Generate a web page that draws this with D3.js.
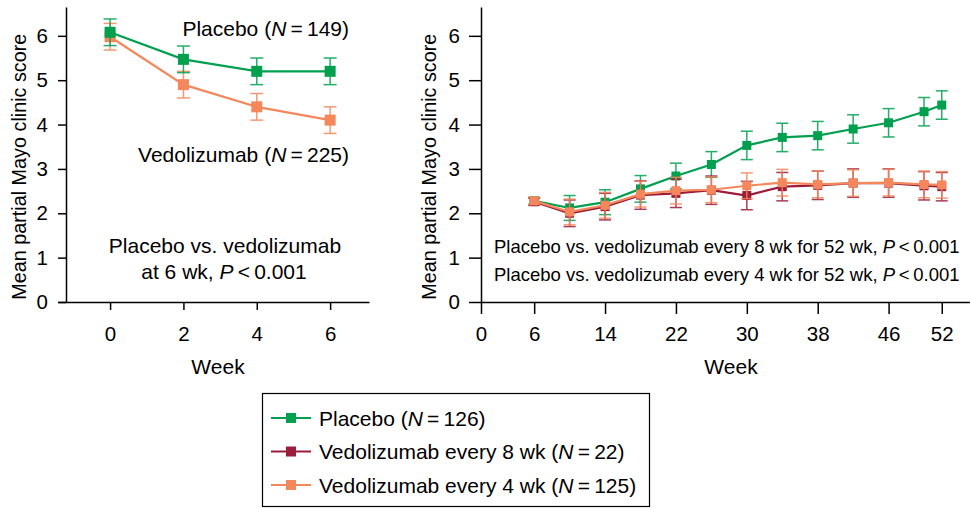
<!DOCTYPE html>
<html>
<head>
<meta charset="utf-8">
<script src="https://cdn.jsdelivr.net/npm/d3@7"></script>
<style>
  body { margin: 0; background: #fff; }
  svg { font-family: "Liberation Sans", Arial, sans-serif; }
  .axis path, .axis line { stroke: #000; stroke-width: 1.5; }
</style>
</head>
<body>
<svg id="chart" width="970" height="509"></svg>
<script>
// Induction phase (left panel)
const inductionWeeks = [0, 2, 4, 6];
const inductionPlacebo = [6.08, 5.47, 5.20, 5.20];
const inductionPlaceboErr = [0.30, 0.30, 0.30, 0.30];
const inductionVedo = [5.98, 4.90, 4.40, 4.10];
const inductionVedoErr = [0.30, 0.30, 0.30, 0.30];

// Maintenance phase (right panel)
const maintWeeks = [6, 10, 14, 18, 22, 26, 30, 34, 38, 42, 46, 50, 52];
const maintPlacebo = [2.28, 2.12, 2.25, 2.55, 2.84, 3.10, 3.53, 3.71, 3.75, 3.90, 4.04, 4.29, 4.44];
const maintPlaceboErr = [0.08, 0.28, 0.28, 0.30, 0.29, 0.29, 0.32, 0.32, 0.32, 0.32, 0.32, 0.32, 0.32];
const maintQ8 = [2.26, 2.00, 2.15, 2.41, 2.45, 2.52, 2.40, 2.60, 2.63, 2.68, 2.68, 2.62, 2.60];
const maintQ8Err = [0.08, 0.30, 0.30, 0.32, 0.32, 0.32, 0.32, 0.32, 0.32, 0.32, 0.32, 0.32, 0.32];
const maintQ4 = [2.28, 2.03, 2.18, 2.43, 2.51, 2.53, 2.62, 2.69, 2.65, 2.68, 2.69, 2.65, 2.64];
const maintQ4Err = [0.08, 0.29, 0.29, 0.29, 0.30, 0.29, 0.29, 0.30, 0.30, 0.30, 0.30, 0.30, 0.30];

const yTicks = [0, 1, 2, 3, 4, 5, 6];
const leftXTicks = [0, 2, 4, 6];
const rightXTicks = [0, 6, 14, 22, 30, 38, 46, 52];

const T = "\u2009"; // thin space used around = and <
const legendLabels = [
  ["Placebo (", "N", `${T}=${T}126)`],
  ["Vedolizumab every 8 wk (", "N", `${T}=${T}22)`],
  ["Vedolizumab every 4 wk (", "N", `${T}=${T}125)`]
];

const colors = { placebo: "#00a04f", q8: "#9b1c3b", q4: "#f4885c" };
const FS = 21;

const svg = d3.select("#chart");

// Shared y scale
const y = d3.scaleLinear().domain([0, 6.65]).range([302, 7]);

// Helper: draw one series with error bars, line and square markers
function drawSeries(g, x, weeks, values, errs, color, size, capW) {
  const pts = weeks.map((w, i) => ({ w, v: values[i], e: errs[i] }));
  const eb = g.append("g").attr("stroke", color).attr("stroke-width", 1.5).attr("opacity", 0.85);
  pts.forEach(p => {
    eb.append("line").attr("x1", x(p.w)).attr("x2", x(p.w)).attr("y1", y(p.v - p.e)).attr("y2", y(p.v + p.e));
    eb.append("line").attr("x1", x(p.w) - capW / 2).attr("x2", x(p.w) + capW / 2).attr("y1", y(p.v + p.e)).attr("y2", y(p.v + p.e));
    eb.append("line").attr("x1", x(p.w) - capW / 2).attr("x2", x(p.w) + capW / 2).attr("y1", y(p.v - p.e)).attr("y2", y(p.v - p.e));
  });
  g.append("path").datum(pts)
    .attr("fill", "none").attr("stroke", color).attr("stroke-width", 2.2)
    .attr("d", d3.line().x(d => x(d.w)).y(d => y(d.v)));
  g.selectAll(null).data(pts).enter().append("rect")
    .attr("x", d => x(d.w) - size / 2).attr("y", d => y(d.v) - size / 2)
    .attr("width", size).attr("height", size).attr("fill", color);
}

function styleAxis(sel) {
  sel.attr("font-family", null).attr("font-size", null);
  sel.selectAll("text").attr("font-size", 20.5).attr("fill", "#000");
}

function yLabel(xPos) {
  svg.append("text")
    .attr("transform", `translate(${xPos},${y(3.05)}) rotate(-90)`)
    .attr("text-anchor", "middle").attr("dominant-baseline", "central")
    .attr("font-size", 19.8).text("Mean partial Mayo clinic score");
}

function richText(g, xPos, yPos, parts, anchor, size) {
  const t = g.append("text").attr("x", xPos).attr("y", yPos).attr("text-anchor", anchor).attr("font-size", size);
  parts.forEach((p, i) => t.append("tspan").attr("font-style", i % 2 === 1 ? "italic" : null).text(p));
  return t;
}

// ---------- Left panel ----------
const xL = d3.scaleLinear().domain([-1.42, 7.06]).range([58, 369]);
const left = svg.append("g");

left.append("g").attr("class", "axis").attr("transform", "translate(0,302)")
  .call(d3.axisBottom(xL).tickValues(leftXTicks).tickSize(8).tickSizeOuter(0).tickPadding(16))
  .call(styleAxis);
left.append("g").attr("class", "axis").attr("transform", "translate(66,0)")
  .call(d3.axisLeft(y).tickValues(yTicks).tickFormat(d3.format("d")).tickSize(8).tickSizeOuter(0).tickPadding(10))
  .call(styleAxis);

drawSeries(left, xL, inductionWeeks, inductionVedo, inductionVedoErr, colors.q4, 11, 13);
drawSeries(left, xL, inductionWeeks, inductionPlacebo, inductionPlaceboErr, colors.placebo, 11, 13);

yLabel(19);
left.append("text").attr("x", 218).attr("y", 374).attr("text-anchor", "middle").attr("font-size", FS).text("Week");

richText(left, 349, 36, ["Placebo (", "N", `${T}=${T}149)`], "end", FS);
richText(left, 349, 162, ["Vedolizumab (", "N", `${T}=${T}225)`], "end", FS);
left.append("text").attr("x", 225).attr("y", 253).attr("text-anchor", "middle").attr("font-size", FS).text("Placebo vs. vedolizumab");
richText(left, 224, 279, ["at 6 wk, ", "P", `${T}<${T}0.001`], "middle", FS);

// ---------- Right panel ----------
const xR = d3.scaleLinear().domain([0, 55.3]).range([481, 971]);
const right = svg.append("g");

right.append("g").attr("class", "axis").attr("transform", "translate(0,302)")
  .call(d3.axisBottom(xR).tickValues(rightXTicks).tickSize(12).tickSizeOuter(0).tickPadding(12))
  .call(styleAxis);
right.append("g").attr("class", "axis").attr("transform", `translate(${xR(0)},0)`)
  .call(d3.axisLeft(y).tickValues(yTicks).tickFormat(d3.format("d")).tickSize(12).tickSizeOuter(0).tickPadding(9))
  .call(styleAxis);

drawSeries(right, xR, maintWeeks, maintPlacebo, maintPlaceboErr, colors.placebo, 9, 12);
drawSeries(right, xR, maintWeeks, maintQ8, maintQ8Err, colors.q8, 9, 12);
drawSeries(right, xR, maintWeeks, maintQ4, maintQ4Err, colors.q4, 9, 12);

yLabel(429);
right.append("text").attr("x", 731).attr("y", 374).attr("text-anchor", "middle").attr("font-size", FS).text("Week");
richText(right, 494, 253, ["Placebo vs. vedolizumab every 8 wk for 52 wk, ", "P", `${T}<${T}0.001`], "start", 18.5);
richText(right, 494, 281, ["Placebo vs. vedolizumab every 4 wk for 52 wk, ", "P", `${T}<${T}0.001`], "start", 18.5);

// ---------- Legend ----------
const legend = svg.append("g");
legend.append("rect").attr("x", 262.5).attr("y", 393.5).attr("width", 387).attr("height", 113)
  .attr("fill", "none").attr("stroke", "#000").attr("stroke-width", 1.2);
const legendColors = [colors.placebo, colors.q8, colors.q4];
const rowY = d3.scalePoint().domain(d3.range(legendLabels.length)).range([418, 485]);
legendLabels.forEach((lab, i) => {
  const cy = rowY(i);
  legend.append("line").attr("x1", 271).attr("x2", 311).attr("y1", cy).attr("y2", cy)
    .attr("stroke", legendColors[i]).attr("stroke-width", 2.2);
  legend.append("rect").attr("x", 291 - 5).attr("y", cy - 5).attr("width", 10).attr("height", 10)
    .attr("fill", legendColors[i]);
  richText(legend, 319, cy + 7.5, lab, "start", FS);
});
</script>
</body>
</html>
